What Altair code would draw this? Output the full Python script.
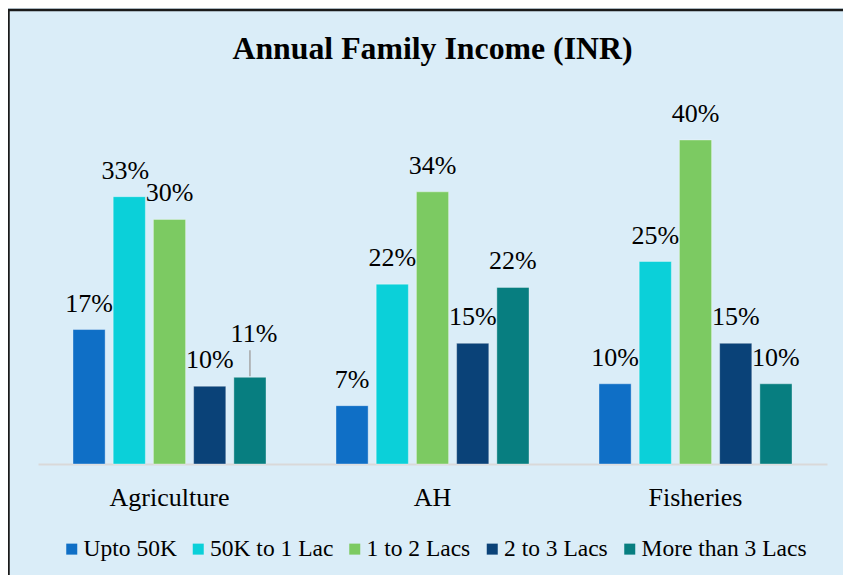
import altair as alt
import pandas as pd

# ---- data ----
categories = ["Agriculture", "AH", "Fisheries"]
series = ["Upto 50K", "50K to 1 Lac", "1 to 2 Lacs", "2 to 3 Lacs", "More than 3 Lacs"]
upto_50k = [16.6, 7.2, 9.9]
k50_to_1lac = [33.0, 22.2, 25.0]
lacs_1_to_2 = [30.2, 33.6, 40.0]
lacs_2_to_3 = [9.6, 14.9, 14.9]
more_than_3 = [10.7, 21.8, 9.9]
colors = ["#0F6FC6", "#0BD0D9", "#7CCA62", "#0A4278", "#077E80"]
title_text = "Annual Family Income (INR)"

values_by_series = [upto_50k, k50_to_1lac, lacs_1_to_2, lacs_2_to_3, more_than_3]
rows = []
for s, vals in zip(series, values_by_series):
    for c, v in zip(categories, vals):
        rows.append({"category": c, "series": s, "value": v})
df = pd.DataFrame(rows)

FONT = "Liberation Serif"
BG = "#DAEDF8"

x_enc = alt.X(
    "category:N",
    sort=categories,
    scale=alt.Scale(paddingInner=0.266, paddingOuter=0.133),
    axis=alt.Axis(
        title=None, labelAngle=0, ticks=False, tickSize=0,
        domainColor="#D9D9D9", domainWidth=2,
        labelFont=FONT, labelFontSize=26, labelColor="#000000",
        labelBaseline="alphabetic", labelPadding=41, grid=False,
    ),
)
xo_enc = alt.XOffset("series:N", sort=series,
                     scale=alt.Scale(paddingInner=0.2, paddingOuter=0))
y_enc = alt.Y("value:Q", scale=alt.Scale(domain=[0, 50], nice=False, zero=True), axis=None)

base = alt.Chart(df).transform_calculate(
    label="format(datum.value, '.0f') + '%'"
)

bars = base.mark_bar(stroke="#FFFFFF", strokeOpacity=0.35, strokeWidth=1).encode(
    x=x_enc,
    xOffset=xo_enc,
    y=y_enc,
    color=alt.Color(
        "series:N", sort=series,
        scale=alt.Scale(domain=series, range=colors),
        legend=alt.Legend(
            title=None, orient="none", legendX=22, legendY=478,
            direction="horizontal", symbolType="square", symbolSize=121,
            symbolStrokeWidth=0, labelFont=FONT, labelFontSize=23.5,
            labelColor="#000000", labelOffset=0, columnPadding=9.5,
            padding=0, labelLimit=400,
        ),
    ),
)

sp_teal = "datum.category == 'Agriculture' && datum.series == 'More than 3 Lacs'"
sp_cyan = "datum.category == 'Agriculture' && datum.series == '50K to 1 Lac'"

text_kw = dict(font=FONT, fontSize=26, baseline="alphabetic", color="#000000")

labels = base.transform_filter(f"!({sp_teal}) && !({sp_cyan})").mark_text(
    dy=-18, **text_kw
).encode(x=x_enc, xOffset=xo_enc, y=y_enc, text="label:N")

label_cyan = base.transform_filter(sp_cyan).mark_text(
    dy=-18, dx=-4, **text_kw
).encode(x=x_enc, xOffset=xo_enc, y=y_enc, text="label:N")

label_teal = base.transform_filter(sp_teal).mark_text(
    dy=-35, dx=4, **text_kw
).encode(x=x_enc, xOffset=xo_enc, y=y_enc, text="label:N")

leader = base.transform_filter(sp_teal).mark_rule(
    color="#A6A6A6", strokeWidth=1.5, yOffset=-1, y2Offset=-27
).encode(x=x_enc, xOffset=xo_enc, y=y_enc, y2="value:Q")

one = alt.Data(values=[{}])
title = alt.Chart(one).mark_text(
    text=title_text, font=FONT, fontSize=31.8, fontWeight="bold",
    baseline="alphabetic", align="center", color="#000000",
).encode(x=alt.value(394.5), y=alt.value(0))

border_left = alt.Chart(one).mark_rule(color="#1A1A1A", strokeWidth=2.5).encode(
    x=alt.value(-29.5), y=alt.value(-50), y2=alt.value(530)
)
border_top = alt.Chart(one).mark_rule(color="#1A1A1A", strokeWidth=2.5).encode(
    x=alt.value(-31), x2=alt.value(810), y=alt.value(-49)
)

chart = alt.layer(
    bars, labels, label_cyan, label_teal, leader, title, border_left, border_top
).properties(
    width=789, height=405,
    padding={"left": 30, "top": 51, "right": 16, "bottom": 111},
    autosize=alt.AutoSizeParams(type="none"),
    background=BG,
).configure_view(stroke=None)

chart.save("out.html", embed_options={"renderer": "svg", "actions": False})
